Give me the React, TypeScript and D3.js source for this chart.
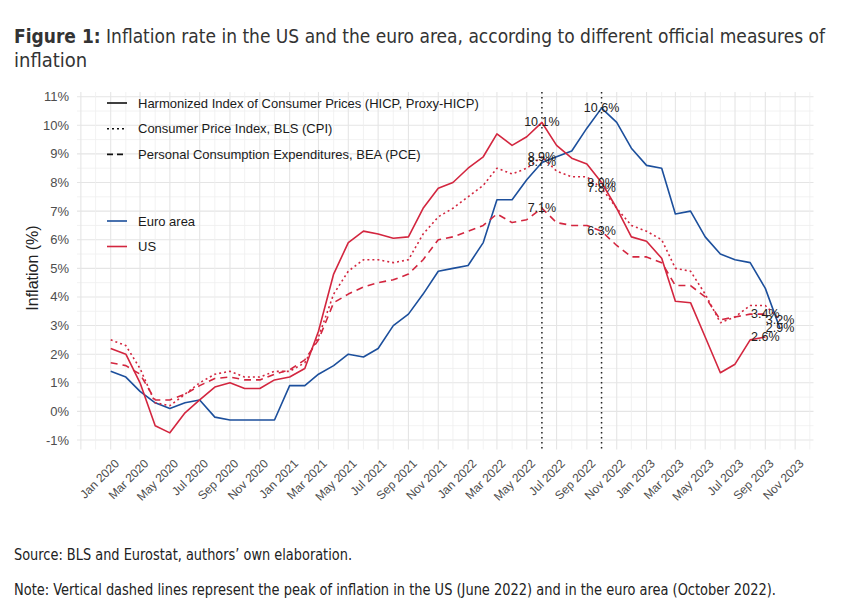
import React from 'react';
import * as d3 from 'd3';

// monthly year-on-year inflation, Jan 2020 onwards
const euroArea = [
  1.4, 1.2, 0.7, 0.3, 0.1, 0.3, 0.4, -0.2, -0.3, -0.3, -0.3, -0.3,
  0.9, 0.9, 1.3, 1.6, 2.0, 1.9, 2.2, 3.0, 3.4, 4.1, 4.9, 5.0,
  5.1, 5.9, 7.4, 7.4, 8.1, 8.7, 8.9, 9.1, 9.9, 10.6, 10.1, 9.2,
  8.6, 8.5, 6.9, 7.0, 6.1, 5.5, 5.3, 5.2, 4.3, 2.9,
];
const usHicp = [
  2.2, 2.0, 1.0, -0.5, -0.75, -0.05, 0.4, 0.85, 1.0, 0.8, 0.8, 1.1,
  1.2, 1.5, 2.8, 4.8, 5.9, 6.3, 6.2, 6.05, 6.1, 7.1, 7.8, 8.0,
  8.5, 8.9, 9.7, 9.3, 9.6, 10.1, 9.3, 8.85, 8.65, 8.0, 7.1, 6.1,
  5.95, 5.35, 3.85, 3.8, 2.6, 1.35, 1.65, 2.5, 2.6,
];
const usCpi = [
  2.5, 2.3, 1.5, 0.3, 0.2, 0.6, 1.0, 1.3, 1.4, 1.2, 1.2, 1.4,
  1.4, 1.7, 2.6, 4.1, 4.9, 5.3, 5.3, 5.2, 5.3, 6.2, 6.8, 7.1,
  7.5, 7.9, 8.5, 8.3, 8.5, 8.9, 8.4, 8.2, 8.2, 7.8, 7.1, 6.5,
  6.3, 6.0, 5.0, 4.9, 4.1, 3.1, 3.3, 3.7, 3.7, 3.2,
];
const usPce = [
  1.7, 1.6, 1.3, 0.4, 0.4, 0.6, 0.9, 1.15, 1.2, 1.1, 1.1, 1.3,
  1.45, 1.8, 2.5, 3.8, 4.1, 4.35, 4.5, 4.6, 4.8, 5.3, 6.0, 6.1,
  6.3, 6.5, 6.9, 6.6, 6.7, 7.1, 6.6, 6.5, 6.5, 6.3, 5.8, 5.4,
  5.4, 5.2, 4.4, 4.4, 4.0, 3.2, 3.3, 3.4, 3.4,
];

const xTickLabels = [
  'Jan 2020', 'Mar 2020', 'May 2020', 'Jul 2020', 'Sep 2020', 'Nov 2020',
  'Jan 2021', 'Mar 2021', 'May 2021', 'Jul 2021', 'Sep 2021', 'Nov 2021',
  'Jan 2022', 'Mar 2022', 'May 2022', 'Jul 2022', 'Sep 2022', 'Nov 2022',
  'Jan 2023', 'Mar 2023', 'May 2023', 'Jul 2023', 'Sep 2023', 'Nov 2023',
];
const yTicks = [-1, 0, 1, 2, 3, 4, 5, 6, 7, 8, 9, 10, 11];

// peaks: US in June 2022 (index 29), euro area in October 2022 (index 33)
const peakIdx = [29, 33];

const BLUE = '#1c4f9c';
const RED = '#d3263f';
const SANS = "'Liberation Sans', Arial, Helvetica, sans-serif";
const NARROW = "'Liberation Sans Narrow', 'DejaVu Sans Condensed', 'Liberation Sans', sans-serif";

const series = [
  { key: 'ea', values: euroArea, color: BLUE, dash: undefined },
  { key: 'pce', values: usPce, color: RED, dash: '7 5' },
  { key: 'cpi', values: usCpi, color: RED, dash: '2 3' },
  { key: 'hicp', values: usHicp, color: RED, dash: undefined },
];

// which points get a value label
const labelled = [
  { values: usHicp, i: 29 }, { values: usCpi, i: 29 }, { values: euroArea, i: 29 }, { values: usPce, i: 29 },
  { values: euroArea, i: 33 }, { values: usHicp, i: 33 }, { values: usCpi, i: 33 }, { values: usPce, i: 33 },
  { values: euroArea, i: 45 }, { values: usCpi, i: 45 }, { values: usPce, i: 44 }, { values: usHicp, i: 44 },
];

const start = new Date(2020, 0, 1);
const monthDate = (i: number) => d3.timeMonth.offset(start, i);

const panel = { left: 77, right: 813.5, top: 92, bottom: 449.5 };

const x = d3.scaleTime().domain([start, monthDate(45)]).range([110.7, 780]);
const y = d3.scaleLinear().domain([-1, 11]).range([440, 96.7]);

const line = d3
  .line<number>()
  .x((_, i) => x(monthDate(i)))
  .y((d) => y(d));

const App = () => {
  const vGrid = d3.range(-2, 48).map((i) => ({ px: x(monthDate(i)), major: i % 2 === 0 }));
  const hGrid = d3.range(-1, 11.01, 0.5).map((v) => ({ py: y(v), major: Number.isInteger(v) }));

  const typeLegend = [
    { label: 'Harmonized Index of Consumer Prices (HICP, Proxy-HICP)', dash: undefined },
    { label: 'Consumer Price Index, BLS (CPI)', dash: '2 3' },
    { label: 'Personal Consumption Expenditures, BEA (PCE)', dash: '6 4' },
  ];
  const colorLegend = [
    { label: 'Euro area', color: BLUE },
    { label: 'US', color: RED },
  ];

  return (
    <svg
      width={841}
      height={615}
      style={{ position: 'absolute', left: 0, top: 0, background: '#fff' }}
    >
      <text x={14} y={43} fontFamily={NARROW} fontSize={20} fill="#333" textLength={811} lengthAdjust="spacingAndGlyphs">
        <tspan fontWeight="bold">Figure 1:</tspan>
        {' Inflation rate in the US and the euro area, according to different official measures of'}
      </text>
      <text x={14} y={67} fontFamily={NARROW} fontSize={20} fill="#333">inflation</text>

      <g>
        {hGrid.map((g, k) => (
          <line key={'h' + k} x1={panel.left} x2={panel.right} y1={g.py} y2={g.py}
            stroke={g.major ? '#e5e5e5' : '#efefef'} strokeWidth={g.major ? 1.1 : 0.8} />
        ))}
        {vGrid.map((g, k) => (
          <line key={'v' + k} x1={g.px} x2={g.px} y1={panel.top} y2={panel.bottom}
            stroke={g.major ? '#e5e5e5' : '#efefef'} strokeWidth={g.major ? 1.1 : 0.8} />
        ))}
      </g>

      {yTicks.map((v) => (
        <text key={v} x={69} y={y(v)} textAnchor="end" dominantBaseline="central"
          fontFamily={SANS} fontSize={13} fill="#4d4d4d">{v}%</text>
      ))}

      {xTickLabels.map((t, k) => {
        const px = x(monthDate(k * 2));
        return (
          <text key={t} transform={`translate(${px + 3},${458}) rotate(-45)`} textAnchor="end"
            dominantBaseline="hanging" fontFamily={SANS} fontSize={12} fill="#4d4d4d">{t}</text>
        );
      })}

      <text transform={`translate(32,${268}) rotate(-90)`} textAnchor="middle" dominantBaseline="central"
        fontFamily={SANS} fontSize={16} fill="#222">Inflation (%)</text>

      {peakIdx.map((i) => (
        <line key={i} x1={x(monthDate(i))} x2={x(monthDate(i))} y1={panel.top} y2={panel.bottom}
          stroke="#222" strokeWidth={1.5} strokeDasharray="1.5 3.5" />
      ))}

      {series.map((s) => (
        <path key={s.key} d={line(s.values) || ''} fill="none" stroke={s.color}
          strokeWidth={1.6} strokeDasharray={s.dash} strokeLinejoin="round" />
      ))}

      {labelled.map((l, k) => (
        <text key={k} x={x(monthDate(l.i))} y={y(l.values[l.i])} textAnchor="middle" dominantBaseline="central"
          fontFamily={SANS} fontSize={12.5} fill="#222">{d3.format('.1f')(l.values[l.i])}%</text>
      ))}

      {typeLegend.map((d, k) => (
        <g key={d.label} transform={`translate(0,${103 + k * 25.7})`}>
          <line x1={107} x2={127} stroke="#111" strokeWidth={1.6} strokeDasharray={d.dash} />
          <text x={138} dominantBaseline="central" fontFamily={SANS} fontSize={13} fill="#1a1a1a">{d.label}</text>
        </g>
      ))}
      {colorLegend.map((d, k) => (
        <g key={d.label} transform={`translate(0,${221 + k * 25.5})`}>
          <line x1={107} x2={127} stroke={d.color} strokeWidth={1.6} />
          <text x={138} dominantBaseline="central" fontFamily={SANS} fontSize={13} fill="#1a1a1a">{d.label}</text>
        </g>
      ))}

      <text x={14} y={560} fontFamily={NARROW} fontSize={15} fill="#222" textLength={338} lengthAdjust="spacingAndGlyphs">
        Source: BLS and Eurostat, authors’ own elaboration.
      </text>
      <text x={14} y={595} fontFamily={NARROW} fontSize={15} fill="#222" textLength={762} lengthAdjust="spacingAndGlyphs">
        Note: Vertical dashed lines represent the peak of inflation in the US (June 2022) and in the euro area (October 2022).
      </text>
    </svg>
  );
};

export default App;
